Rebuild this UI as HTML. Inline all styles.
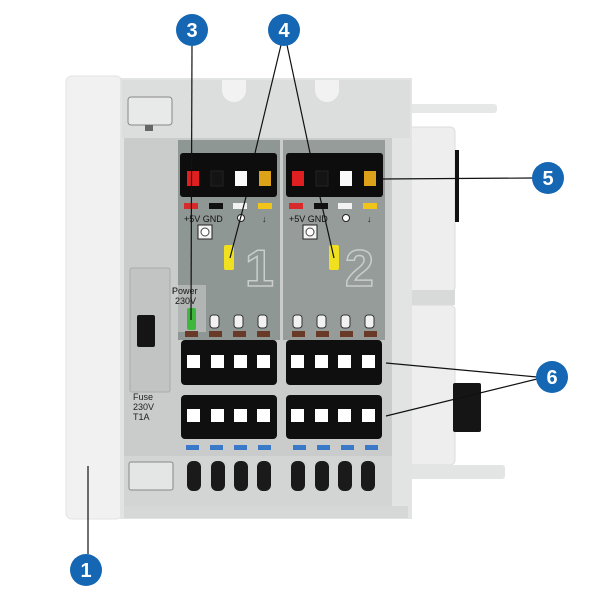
<!DOCTYPE html>
<html><head><meta charset="utf-8"><style>
html,body{margin:0;padding:0;background:#fff;}
svg{display:block;font-family:"Liberation Sans",sans-serif;}
</style></head><body>
<svg width="600" height="600" viewBox="0 0 600 600" xmlns="http://www.w3.org/2000/svg">
<rect width="600" height="600" fill="#fff"/>
<!-- right side pieces -->
<rect x="405" y="104" width="92" height="9" rx="3" fill="#e6e7e7"/>
<rect x="405" y="127" width="50" height="165" rx="5" fill="#eeeeee" stroke="#dcdcdc"/>
<rect x="405" y="290" width="50" height="15" fill="#d8d9d9"/>
<rect x="405" y="305" width="50" height="160" rx="5" fill="#eeeeee" stroke="#dcdcdc"/>
<rect x="405" y="465" width="100" height="14" rx="3" fill="#e3e4e4"/>
<rect x="455" y="150" width="4" height="72" fill="#111"/>
<rect x="453" y="383" width="28" height="49" rx="2" fill="#151515"/>
<!-- left housing -->
<rect x="66" y="76" width="56" height="443" rx="6" fill="#f1f1f1" stroke="#e3e3e3"/>
<!-- main body -->
<rect x="120" y="78" width="292" height="441" fill="#e2e3e3"/>
<rect x="122" y="80" width="288" height="58" fill="#dcdedd"/>
<rect x="128" y="97" width="44" height="28" rx="3" fill="#e8e9e9" stroke="#888" stroke-width="1"/>
<rect x="145" y="125" width="8" height="6" fill="#666"/>
<path d="M222 80 v10 a12 12 0 0 0 24 0 v-10 z" fill="#f2f2f2"/>
<path d="M315 80 v10 a12 12 0 0 0 24 0 v-10 z" fill="#f2f2f2"/>
<!-- inner panel -->
<rect x="124" y="138" width="268" height="355" fill="#c9cccb"/>
<rect x="178" y="140" width="102" height="200" fill="#8f9795"/>
<rect x="283" y="140" width="102" height="200" fill="#959c9a"/>
<!-- top connectors -->
<rect x="180" y="153" width="97" height="44" rx="3" fill="#0d0d0d"/>
<rect x="286" y="153" width="97" height="44" rx="3" fill="#0d0d0d"/>
<g>
<rect x="187" y="171" width="12" height="15" fill="#e02020"/>
<rect x="211" y="171" width="12" height="15" fill="#141414" stroke="#222"/>
<rect x="235" y="171" width="12" height="15" fill="#fafafa"/>
<rect x="259" y="171" width="12" height="15" fill="#dca21a"/>
<rect x="292" y="171" width="12" height="15" fill="#e02020"/>
<rect x="316" y="171" width="12" height="15" fill="#141414" stroke="#222"/>
<rect x="340" y="171" width="12" height="15" fill="#fafafa"/>
<rect x="364" y="171" width="12" height="15" fill="#dca21a"/>
</g>
<!-- color bars -->
<g>
<rect x="184" y="203" width="14" height="6" fill="#d82a2a"/>
<rect x="209" y="203" width="14" height="6" fill="#111"/>
<rect x="233" y="203" width="14" height="6" fill="#f2f2f2"/>
<rect x="258" y="203" width="14" height="6" fill="#f0c418"/>
<rect x="289" y="203" width="14" height="6" fill="#d82a2a"/>
<rect x="314" y="203" width="14" height="6" fill="#111"/>
<rect x="338" y="203" width="14" height="6" fill="#f2f2f2"/>
<rect x="363" y="203" width="14" height="6" fill="#f0c418"/>
</g>
<g font-size="9" fill="#111">
<text x="184" y="222">+5V GND</text>
<text x="289" y="222">+5V GND</text>
</g>
<circle cx="241" cy="218" r="3.5" fill="#fff" stroke="#222"/>
<circle cx="346" cy="218" r="3.5" fill="#fff" stroke="#222"/>
<text x="262" y="222" font-size="9" fill="#222">↓</text>
<text x="367" y="222" font-size="9" fill="#222">↓</text>
<rect x="198" y="225" width="14" height="14" fill="#f4f4f4" stroke="#222"/>
<circle cx="205" cy="232" r="4" fill="#fff" stroke="#444"/>
<rect x="303" y="225" width="14" height="14" fill="#f4f4f4" stroke="#222"/>
<circle cx="310" cy="232" r="4" fill="#fff" stroke="#444"/>
<rect x="224" y="245" width="10" height="25" rx="2" fill="#f0e020"/>
<rect x="329" y="245" width="10" height="25" rx="2" fill="#f0e020"/>
<text x="245" y="286" font-size="52" font-weight="bold" fill="none" stroke="#c9cecc" stroke-width="1.5">1</text>
<text x="345" y="286" font-size="52" font-weight="bold" fill="none" stroke="#c9cecc" stroke-width="1.5">2</text>
<!-- fuse holder -->
<rect x="130" y="268" width="40" height="124" rx="2" fill="#c2c4c4" stroke="#aaa"/>
<rect x="137" y="315" width="18" height="32" rx="2" fill="#151515"/>
<g font-size="9" fill="#222">
<text x="133" y="400">Fuse</text><text x="133" y="410">230V</text><text x="133" y="420">T1A</text>
<text x="172" y="294">Power</text><text x="175" y="304">230V</text>
</g>
<rect x="174" y="285" width="32" height="47" fill="#c8cbca" opacity="0.6"/>
<text x="172" y="294" font-size="9" fill="#222">Power</text><text x="175" y="304" font-size="9" fill="#222">230V</text>
<rect x="187" y="308" width="9" height="22" rx="2" fill="#3fb73f"/>
<g fill="#f2f2f2" stroke="#333" stroke-width="1">
<rect x="210" y="315" width="9" height="13" rx="3"/><rect x="234" y="315" width="9" height="13" rx="3"/><rect x="258" y="315" width="9" height="13" rx="3"/>
<rect x="293" y="315" width="9" height="13" rx="3"/><rect x="317" y="315" width="9" height="13" rx="3"/><rect x="341" y="315" width="9" height="13" rx="3"/><rect x="365" y="315" width="9" height="13" rx="3"/>
</g>
<g fill="#6a3a28">
<rect x="185" y="331" width="13" height="6"/><rect x="209" y="331" width="13" height="6"/><rect x="233" y="331" width="13" height="6"/><rect x="257" y="331" width="13" height="6"/>
<rect x="292" y="331" width="13" height="6"/><rect x="316" y="331" width="13" height="6"/><rect x="340" y="331" width="13" height="6"/><rect x="364" y="331" width="13" height="6"/>
</g>
<!-- terminal blocks -->
<g fill="#0f0f0f">
<rect x="181" y="340" width="96" height="45" rx="4"/><rect x="286" y="340" width="96" height="45" rx="4"/>
<rect x="181" y="395" width="96" height="44" rx="4"/><rect x="286" y="395" width="96" height="44" rx="4"/>
</g>
<g fill="#fff">
<rect x="187" y="355" width="13" height="13"/><rect x="211" y="355" width="13" height="13"/><rect x="234" y="355" width="13" height="13"/><rect x="257" y="355" width="13" height="13"/>
<rect x="291" y="355" width="13" height="13"/><rect x="315" y="355" width="13" height="13"/><rect x="338" y="355" width="13" height="13"/><rect x="362" y="355" width="13" height="13"/>
<rect x="187" y="409" width="13" height="13"/><rect x="211" y="409" width="13" height="13"/><rect x="234" y="409" width="13" height="13"/><rect x="257" y="409" width="13" height="13"/>
<rect x="291" y="409" width="13" height="13"/><rect x="315" y="409" width="13" height="13"/><rect x="338" y="409" width="13" height="13"/><rect x="362" y="409" width="13" height="13"/>
</g>
<g fill="#3a78c8">
<rect x="186" y="445" width="13" height="5"/><rect x="210" y="445" width="13" height="5"/><rect x="234" y="445" width="13" height="5"/><rect x="258" y="445" width="13" height="5"/>
<rect x="293" y="445" width="13" height="5"/><rect x="317" y="445" width="13" height="5"/><rect x="341" y="445" width="13" height="5"/><rect x="365" y="445" width="13" height="5"/>
</g>
<!-- bottom -->
<rect x="124" y="456" width="268" height="50" fill="#d3d5d5"/>
<rect x="129" y="462" width="44" height="28" rx="2" fill="#e4e5e5" stroke="#888"/>
<g fill="#1a1a1a">
<rect x="187" y="461" width="14" height="30" rx="6"/><rect x="211" y="461" width="14" height="30" rx="6"/><rect x="234" y="461" width="14" height="30" rx="6"/><rect x="257" y="461" width="14" height="30" rx="6"/>
<rect x="291" y="461" width="14" height="30" rx="6"/><rect x="315" y="461" width="14" height="30" rx="6"/><rect x="338" y="461" width="14" height="30" rx="6"/><rect x="361" y="461" width="14" height="30" rx="6"/>
</g>
<rect x="124" y="506" width="284" height="12" fill="#d6d8d8"/>
<!-- leader lines -->
<g stroke="#111" stroke-width="1.2" fill="none">
<line x1="192" y1="45" x2="191" y2="320"/>
<line x1="281" y1="45" x2="255" y2="153"/>
<line x1="287" y1="45" x2="310" y2="153"/>
<line x1="246" y1="197" x2="230" y2="258"/>
<line x1="320" y1="197" x2="334" y2="258"/>
<line x1="380" y1="179" x2="533" y2="178"/>
<line x1="386" y1="363" x2="537" y2="377"/>
<line x1="386" y1="416" x2="537" y2="379"/>
<line x1="88" y1="466" x2="88" y2="554"/>
</g>
<!-- callouts -->
<g fill="#1566b3">
<circle cx="192" cy="30" r="16"/><circle cx="284" cy="30" r="16"/><circle cx="548" cy="178" r="16"/><circle cx="552" cy="377" r="16"/><circle cx="86" cy="570" r="16"/>
</g>
<g fill="#fff" font-size="20" font-weight="bold" text-anchor="middle">
<text x="192" y="37">3</text><text x="284" y="37">4</text><text x="548" y="185">5</text><text x="552" y="384">6</text><text x="86" y="577">1</text>
</g>
</svg>
</body></html>
